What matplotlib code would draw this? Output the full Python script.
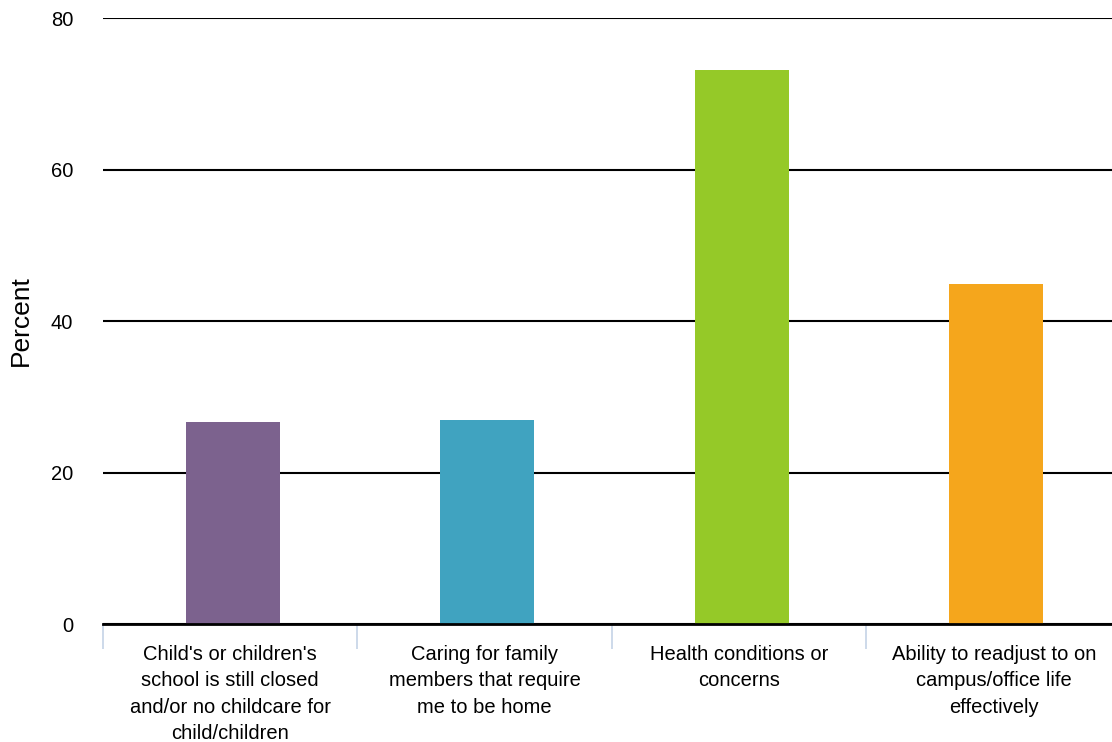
import matplotlib.pyplot as plt
import numpy as np

plt.rcParams['font.family'] = ['Liberation Sans', 'DejaVu Sans']

categories = [
    "Child's or children's\nschool is still closed\nand/or no childcare for\nchild/children",
    "Caring for family\nmembers that require\nme to be home",
    "Health conditions or\nconcerns",
    "Ability to readjust to on\ncampus/office life\neffectively",
]
values = [26.7, 26.9, 73.1, 44.9]
colors = ['#7c628e', '#40a3c0', '#95c928', '#f5a61c']
yticks = [0, 20, 40, 60, 80]

fig = plt.figure(figsize=(11.12, 7.42), dpi=100)
ax = fig.add_axes([0.0926, 0.159, 0.9155, 0.8167])

x = np.arange(len(values))
ax.bar(x + 0.01, values, width=0.37, color=colors, zorder=3)

ax.set_xlim(-0.5, len(values) - 0.5)
ax.set_ylim(0, 80)
ax.set_yticks(yticks)
ax.set_yticklabels([str(t) for t in yticks], fontsize=14.5)
ax.tick_params(axis='y', length=0, pad=21.5)
ax.grid(axis='y', color='black', linewidth=1.5, zorder=1)
ax.set_ylabel('Percent', fontsize=19, labelpad=13)

# category ticks at boundaries
ax.set_xticks(np.arange(-0.5, len(values), 1.0))
ax.set_xticklabels([])
ax.tick_params(axis='x', direction='out', length=18, width=1.2, color='#c5d3e6')
ax.set_xticks(x, minor=True)
ax.set_xticklabels(categories, minor=True, fontsize=14.5, linespacing=1.5)
ax.tick_params(axis='x', which='minor', length=0, pad=15)

for s in ['top', 'right', 'left']:
    ax.spines[s].set_visible(False)
ax.spines['bottom'].set_linewidth(2)
ax.spines['bottom'].set_zorder(4)

fig.savefig('out.png', dpi=100)
